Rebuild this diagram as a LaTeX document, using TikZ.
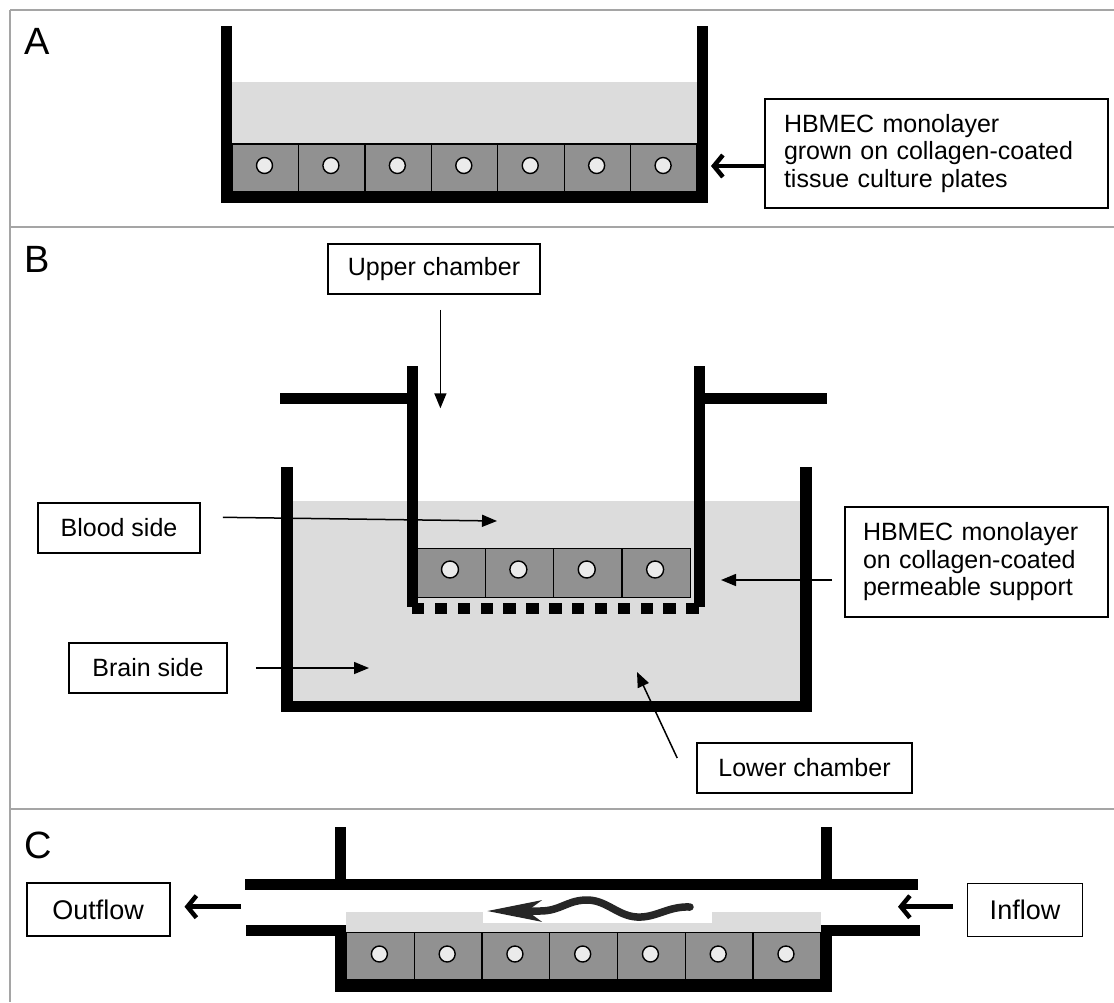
\documentclass[tikz,border=0pt]{standalone}
\usepackage{fontspec}
\setmainfont{Liberation Sans}
\usetikzlibrary{arrows.meta}
\definecolor{liquid}{RGB}{220,220,220}
\definecolor{cellgray}{RGB}{145,145,145}
\definecolor{nucgray}{RGB}{235,235,235}
\definecolor{framegray}{RGB}{165,165,165}
\begin{document}
\begin{tikzpicture}[x=1pt,y=-1pt,
  cellbox/.style={fill=cellgray,draw=black,line width=1.3pt},
  nucleus/.style={fill=nucgray,draw=black,line width=1.4pt},
  lbl/.style={draw=black,line width=1.6pt,font=\fontsize{25}{27.5}\selectfont,inner sep=0pt,align=left},
  flowlbl/.style={lbl,font=\fontsize{27}{31}\selectfont},
  panellbl/.style={font=\fontsize{38}{38}\selectfont,anchor=base west,inner sep=0pt},
  ptr/.style={line width=1.5pt,-{Triangle[length=15pt,width=12pt]}},
  bigptr/.style={line width=4.5pt,-{Straight Barb[length=9pt,width=22pt]}},
  frameline/.style={draw=framegray,line width=2pt},
]
\useasboundingbox (0,0) rectangle (1114,1002);

% frame
\draw[frameline] (10,9.5) -- (1114,9.5);
\draw[frameline] (10,9.5) -- (10,1002);
\draw[frameline] (10,226.7) -- (1114,226.7);
\draw[frameline] (10,809.3) -- (1114,809.3);

% ---------------- Panel A ----------------
\node[panellbl] (labA) at (24,54) {A};
\fill[liquid] (232,82.3) rectangle (697,144);
\foreach \i in {0,...,6}{
  \draw[cellbox] ({232+\i*66.43},144) rectangle ({232+(\i+1)*66.43},191.7);
  \draw[nucleus] ({232+\i*66.43+32.5},165.5) circle[radius=8pt];
}
\fill (220.7,25.7) rectangle (232,202.7);
\fill (697,25.7) rectangle (708,202.7);
\fill (220.7,191.7) rectangle (708,202.7);

\node[lbl,text width=305pt,inner xsep=19pt,minimum height=109pt] (boxA) at (936.5,153.5)
  {\raisebox{-4pt}{\parbox{305pt}{HBMEC monolayer\\grown on collagen-coated\\tissue culture plates}}};
\coordinate (aTip) at (711,166);
\draw[bigptr] (boxA.west |- aTip) -- (aTip);

% ---------------- Panel B ----------------
\node[panellbl] (labB) at (24,272) {B};
\fill[liquid] (292.5,500.7) rectangle (800.4,700.7);
\foreach \i in {0,...,3}{
  \draw[cellbox] ({417+\i*68.375},548.3) rectangle ({417+(\i+1)*68.375},597.3);
  \draw[nucleus] ({417+\i*68.375+33},569.5) circle[radius=8.5pt];
}
\foreach \i in {0,...,12}{
  \fill ({412+\i*22.85},602.7) rectangle ++(12.4,11.6);
}
% insert
\fill (407.3,366) rectangle (418,607.3);
\fill (693.6,366) rectangle (705,607.3);
\fill (280.3,392.7) rectangle (407.3,404);
\fill (705,392.7) rectangle (827.2,404);
% outer well
\fill (281,466.7) rectangle (292.5,711.7);
\fill (800.4,466.7) rectangle (812,711.7);
\fill (281,700.7) rectangle (812,711.7);

\node[lbl,minimum width=212pt,minimum height=50pt,align=center] (upper) at (434,269) {Upper chamber};
\coordinate (upTip) at (440.4,408.3);
\draw[ptr,shorten <=15pt] (upper.south -| upTip) -- (upTip);

\node[lbl,minimum width=162pt,minimum height=50pt,align=center] (blood) at (119,528) {Blood side};
\coordinate (bloodTip) at (497,521);
\draw[ptr,shorten <=22pt] ([yshift=11pt]blood.east) -- (bloodTip);

\node[lbl,minimum width=158pt,minimum height=50pt,align=center] (brain) at (148,668) {Brain side};
\coordinate (brainTip) at (369,668);
\draw[ptr,shorten <=28pt] (brain.east) -- (brainTip);

\node[lbl,text width=227pt,inner xsep=18pt,minimum height=110pt] (hbB) at (976.5,562)
  {HBMEC monolayer\\on collagen-coated\\permeable support};
\coordinate (hbTip) at (721,580);
\draw[ptr,shorten <=12pt] (hbB.west |- hbTip) -- (hbTip);

\node[lbl,minimum width=215pt,minimum height=50pt,align=center] (lower) at (804.5,768) {Lower chamber};
\coordinate (lowTip) at (637,672);
\draw[ptr] ([xshift=-19pt,yshift=10pt]lower.west) -- (lowTip);

% ---------------- Panel C ----------------
\node[panellbl] (labC) at (24,858) {C};
\fill[liquid] (346.4,912.3) rectangle (820.7,932.7);
\fill[white] (483.3,890) rectangle (711.7,923.3);
\foreach \i in {0,...,6}{
  \draw[cellbox] ({346.4+\i*67.76},932.7) rectangle ({346.4+(\i+1)*67.76},980);
  \draw[nucleus] ({346.4+\i*67.76+33},954) circle[radius=8pt];
}
% channel
\fill (244.6,879) rectangle (917.7,890);
\fill (334.6,826.7) rectangle (346.4,879);
\fill (820.7,826.7) rectangle (831.7,879);
\fill (246,925) rectangle (346.4,936);
\fill (334.6,925) rectangle (346.4,991.7);
\fill (334.6,980) rectangle (831.7,991.7);
\fill (820.7,925) rectangle (831.7,991.7);
\fill (820.7,925) rectangle (919.6,936);
% wavy flow arrow
\draw[line width=7.5pt,black!85,line cap=round,-{Stealth[length=54pt,width=21pt,inset=14pt]}]
  (690,907) .. controls (668,906) and (656,918) .. (637,917)
  .. controls (617,916) and (606,899) .. (585,900)
  .. controls (566,901) and (560,911) .. (540,911) -- (487,911);

\node[flowlbl,minimum width=143pt,minimum height=53pt,align=center] (outflow) at (98.2,909.6) {Outflow};
\coordinate (outFrom) at (241,906.7);
\draw[bigptr,shorten >=14pt] (outFrom) -- (outflow.east |- outFrom);

\node[flowlbl,minimum width=115pt,minimum height=53pt,align=center] (inflow) at (1025,910) {Inflow};
\coordinate (inTip) at (898,906.7);
\draw[bigptr,shorten <=14pt] (inflow.west |- inTip) -- (inTip);
\end{tikzpicture}
\end{document}
